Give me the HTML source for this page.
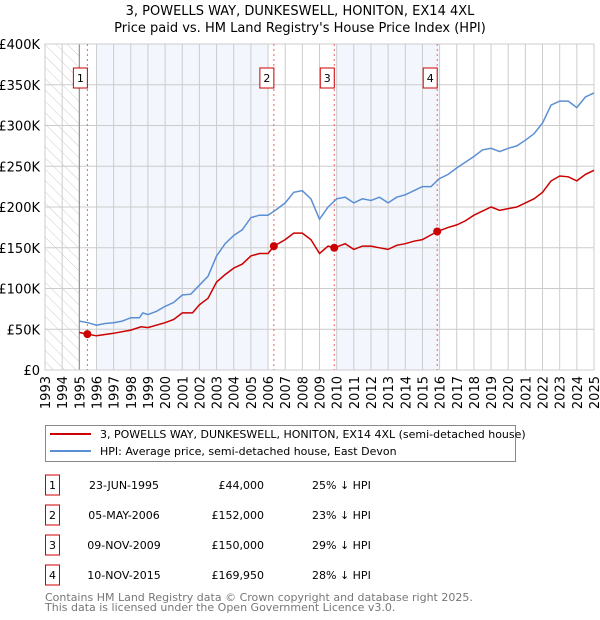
<!DOCTYPE html>
<html><head><meta charset="utf-8"><style>
body{margin:0;background:#fff;font-family:"DejaVu Sans","Liberation Sans",sans-serif;}
#wrap{position:relative;width:600px;height:620px;overflow:hidden}
svg{position:absolute;left:0;top:0}
</style></head><body><div id="wrap">
<svg id="c" width="600" height="620"></svg>
</div>
<script>
const hpiYears=[1995,1995.5,1996,1996.5,1997,1997.5,1998,1998.5,1998.7,1999,1999.5,2000,2000.5,2001,2001.5,2002,2002.5,2003,2003.5,2004,2004.5,2005,2005.5,2006,2006.5,2007,2007.5,2008,2008.5,2009,2009.5,2010,2010.5,2011,2011.5,2012,2012.5,2013,2013.5,2014,2014.5,2015,2015.5,2016,2016.5,2017,2017.5,2018,2018.5,2019,2019.5,2020,2020.5,2021,2021.5,2022,2022.5,2023,2023.5,2024,2024.5,2025];
const hpiValues=[60,58,55,57,58,60,64,64,70,68,72,78,83,92,93,104,115,140,155,165,172,187,190,190,197,205,218,220,210,185,200,210,212,205,210,208,212,205,212,215,220,225,225,235,240,248,255,262,270,272,268,272,275,282,290,303,325,330,330,322,335,340];
const redYears=[1995,1995.47,1996,1997,1998,1998.6,1999,2000,2000.5,2001,2001.6,2002,2002.5,2003,2003.5,2004,2004.5,2005,2005.5,2006,2006.35,2007,2007.5,2008,2008.5,2009,2009.5,2009.86,2010.5,2011,2011.5,2012,2012.5,2013,2013.5,2014,2014.5,2015,2015.86,2016.5,2017,2017.5,2018,2018.5,2019,2019.5,2020,2020.5,2021,2021.5,2022,2022.5,2023,2023.5,2024,2024.5,2025];
const redValues=[46,44,42,45,49,53,52,58,62,70,70,80,88,108,117,125,130,140,143,143,152,160,168,168,160,143,152,150,155,148,152,152,150,148,153,155,158,160,170,175,178,183,190,195,200,196,198,200,205,210,218,232,238,237,232,240,245];
const saleYears=[1995.47,2006.34,2009.86,2015.86];
const saleValues=[44,152,150,169.95];
const saleLabels=["1","2","3","4"];
const yTicks=[0,50,100,150,200,250,300,350,400];
const yTickLabels=["£0","£50K","£100K","£150K","£200K","£250K","£300K","£350K","£400K"];
const xTicks=[1993,1994,1995,1996,1997,1998,1999,2000,2001,2002,2003,2004,2005,2006,2007,2008,2009,2010,2011,2012,2013,2014,2015,2016,2017,2018,2019,2020,2021,2022,2023,2024,2025];
const tableDates=["23-JUN-1995","05-MAY-2006","09-NOV-2009","10-NOV-2015"];
const tablePrices=["£44,000","£152,000","£150,000","£169,950"];
const tableHpi=["25% ↓ HPI","23% ↓ HPI","29% ↓ HPI","28% ↓ HPI"];

const L=45,R=594,T=44,B=370;
const X=y=>L+(y-1993)/(2025-1993)*(R-L);
const Y=v=>B-v/400*(B-T);
const svg=document.getElementById('c');const NS='http://www.w3.org/2000/svg';
function mk(t,a,txt){const e=document.createElementNS(NS,t);for(const k in a)e.setAttribute(k,a[k]);if(txt!==undefined)e.textContent=txt;svg.appendChild(e);return e;}

let e;
e=mk('text',{x:300,y:15,'text-anchor':'middle','font-size':13,fill:'#000'},'3, POWELLS WAY, DUNKESWELL, HONITON, EX14 4XL');


e=mk('text',{x:300,y:32,'text-anchor':'middle','font-size':13,fill:'#000'},"Price paid vs. HM Land Registry's House Price Index (HPI)");



const defs=mk('defs',{});
defs.innerHTML='<pattern id="h" width="8" height="8" patternUnits="userSpaceOnUse" patternTransform="rotate(-45)"><line x1="0" y1="0" x2="0" y2="8" stroke="#ccc" stroke-width="1"/></pattern>';
// shaded bands
e=mk('rect',{x:X(1996),y:T,width:X(2006.0)-X(1996),height:B-T,fill:'#f3f6fd'});


e=mk('rect',{x:X(2010),y:T,width:X(2016)-X(2010),height:B-T,fill:'#f3f6fd'});


e=mk('rect',{x:L,y:T,width:X(1995)-L,height:B-T,fill:'url(#h)'});


// grid
xTicks.forEach(t=>{e=mk('line',{x1:X(t),x2:X(t),y1:T,y2:B,stroke:'#ccc','stroke-width':1});

});
yTicks.forEach((t,i)=>{e=mk('line',{x1:L,x2:R,y1:Y(t),y2:Y(t),stroke:'#ccc','stroke-width':1});


e=mk('text',{x:40,y:Y(t)+5,'text-anchor':'end','font-size':13,fill:'#000'},yTickLabels[i]);

});
xTicks.forEach(t=>{e=mk('text',{x:0,y:0,'text-anchor':'end','font-size':13,fill:'#000',transform:`translate(${X(t)+5},376) rotate(-90)`},String(t));

});
e=mk('line',{x1:X(1995),x2:X(1995),y1:T,y2:B,stroke:'#888','stroke-width':1});


e=mk('rect',{x:L,y:T,width:R-L,height:B-T,fill:'none',stroke:'#ccc'});


// sale lines + labels
saleYears.forEach((s,i)=>{e=mk('line',{x1:X(s),x2:X(s),y1:T,y2:B,stroke:'#f06060','stroke-width':1,'stroke-dasharray':'2,3'});


e=mk('rect',{x:X(s)-14,y:68,width:14,height:20,fill:'#fff',stroke:'#c00'});


e=mk('text',{x:X(s)-7,y:82,'text-anchor':'middle','font-size':11,fill:'#000'},saleLabels[i]);

});
// lines
const path=(xs,vs)=>xs.map((x,i)=>(i?'L':'M')+X(x).toFixed(1)+','+Y(vs[i]).toFixed(1)).join('');
e=mk('path',{d:path(hpiYears,hpiValues),fill:'none',stroke:'#5b8fd4','stroke-width':1.5});


e=mk('path',{d:path(redYears,redValues),fill:'none',stroke:'#cc0000','stroke-width':1.5});


saleYears.forEach((s,i)=>{e=mk('circle',{cx:X(s),cy:Y(saleValues[i]),r:4,fill:'#cc0000'});

});
// legend
e=mk('rect',{x:45.5,y:425.5,width:470,height:36,fill:'#fff',stroke:'#888'});


e=mk('line',{x1:50,x2:91,y1:434,y2:434,stroke:'#cc0000','stroke-width':2});


e=mk('text',{x:100,y:438,'font-size':11,fill:'#000'},'3, POWELLS WAY, DUNKESWELL, HONITON, EX14 4XL (semi-detached house)');


e=mk('line',{x1:50,x2:91,y1:451,y2:451,stroke:'#5b8fd4','stroke-width':2});


e=mk('text',{x:100,y:455,'font-size':11,fill:'#000'},'HPI: Average price, semi-detached house, East Devon');


// table
tableDates.forEach((d,i)=>{const y=483+i*30;
e=mk('rect',{x:45.5,y:y-8,width:14,height:20,fill:'#fff',stroke:'#c00'});


e=mk('text',{x:52.5,y:y+6,'text-anchor':'middle','font-size':11,fill:'#000'},saleLabels[i]);


e=mk('text',{x:124,y:y+6,'text-anchor':'middle','font-size':11,fill:'#000'},d);


e=mk('text',{x:264,y:y+6,'text-anchor':'end','font-size':11,fill:'#000'},tablePrices[i]);


e=mk('text',{x:312,y:y+6,'font-size':11,fill:'#000'},tableHpi[i]);

});
e=mk('text',{x:45,y:601,'font-size':11,fill:'#777'},'Contains HM Land Registry data © Crown copyright and database right 2025.');


e=mk('text',{x:45,y:611,'font-size':11,fill:'#777'},'This data is licensed under the Open Government Licence v3.0.');


</script></body></html>
